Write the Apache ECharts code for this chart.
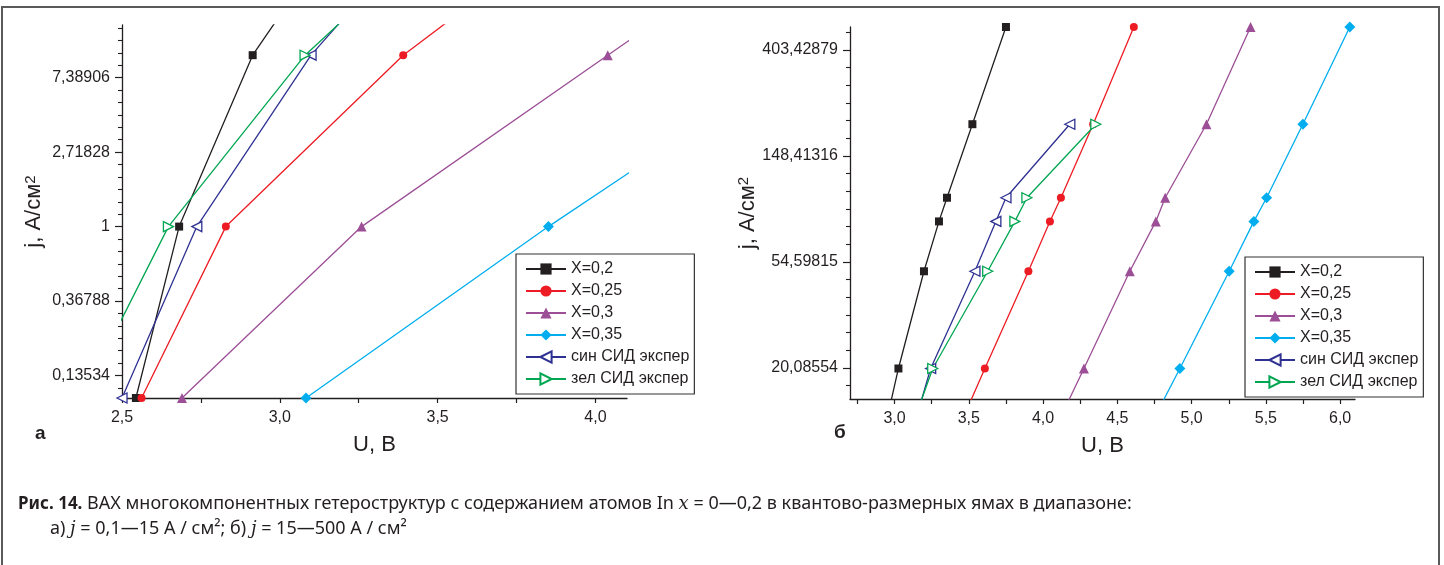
<!DOCTYPE html>
<html>
<head>
<meta charset="utf-8">
<script src="https://cdn.jsdelivr.net/npm/echarts@6/dist/echarts.min.js"></script>
<style>
  html, body { margin: 0; padding: 0; background: #fff; }
  #chart { width: 1444px; height: 565px; }
</style>
</head>
<body>
<div id="chart"></div>
<script>
// Current density levels, A/cm^2 (shared by all curves)
const currentDensity = [0.1, 1, 10, 20, 50, 80, 100, 200, 500];

// Voltage, V, at each current density level
const voltX020 = [2.544, 2.681, 2.914, 3.026, 3.198, 3.299, 3.353, 3.524, 3.750];
const voltX025 = [2.562, 2.829, 3.391, 3.608, 3.901, 4.046, 4.120, 4.337, 4.611];
const voltX030 = [2.690, 3.259, 4.039, 4.275, 4.584, 4.759, 4.822, 5.100, 5.397];
const voltX035 = [3.083, 3.851, 4.665, 4.921, 5.253, 5.419, 5.505, 5.749, 6.065];
const voltBlueLed = [2.500, 2.737, 3.099, 3.243, 3.541, 3.682, 3.750, 4.180, null];
const voltGreenLed = [2.373, 2.647, 3.080, 3.257, 3.627, 3.810, 3.891, 4.355, null];

const seriesNames = ['X=0,2', 'X=0,25', 'X=0,3', 'X=0,35', 'син СИД экспер', 'зел СИД экспер'];

// Axis ticks: voltage labels and natural-log powers for current density
const xLabelsA = [2.5, 3.0, 3.5, 4.0];
const xTicksA = [2.5, 2.75, 3.0, 3.25, 3.5, 3.75, 4.0];
const xLabelsB = [3.0, 3.5, 4.0, 4.5, 5.0, 5.5, 6.0];
const xTicksB = [2.75, 3.0, 3.25, 3.5, 3.75, 4.0, 4.25, 4.5, 4.75, 5.0, 5.25, 5.5, 5.75, 6.0];
const lnPowersA = [-2, -1, 0, 1, 2];
const lnPowersB = [3, 4, 5, 6];
const minorPerPower = 6;

const volts = [voltX020, voltX025, voltX030, voltX035, voltBlueLed, voltGreenLed];
const colors = ['#231f20', '#ed1c24', '#9c4f96', '#00aeef', '#2e3192', '#00a651'];
const symbols = ['rect', 'circle', 'triangle', 'diamond', 'triangle', 'triangle'];
const symbolSizes = [8, 8, 10, 11, 10, 10];
const rotations = [0, 0, 0, 0, 90, -90];
const hollow = [false, false, false, false, true, true];

const FONT = 'Liberation Sans, Arial, sans-serif';
const TEXT = '#231f20';

function fmtNum(v) {
  return String(Math.round(v * 1e5) / 1e5).replace('.', ',');
}
function fmtVolt(v) {
  return v.toFixed(1).replace('.', ',');
}
function majorTicks(powers) {
  return powers.map(p => Math.exp(p));
}
function minorTicks(powers, lo, hi) {
  const out = [];
  const from = powers[0] - 1, to = powers[powers.length - 1] + 1;
  for (let p = from; p <= to; p++) {
    for (let k = 1; k < minorPerPower; k++) {
      const v = Math.exp(p + k / minorPerPower);
      if (v >= lo && v <= hi) out.push(v);
    }
  }
  return out;
}

const grids = [
  { left: 122, top: 25, width: 505, height: 373 },
  { left: 850, top: 27, width: 505, height: 372 }
];

const yRange = [[0.1, 15], [15, 500]];
const xRange = [[2.5, 4.1], [2.7, 6.1]];
const xLabels = [xLabelsA, xLabelsB];
const xTicks = [xTicksA, xTicksB];
const lnPowers = [lnPowersA, lnPowersB];

const yName = {
  name: 'j, A/см{s|2}',
  nameLocation: 'middle',
  nameRotate: 90,
  nameTextStyle: {
    fontFamily: FONT, fontSize: 22, color: TEXT,
    rich: { s: { fontFamily: FONT, fontSize: 15, color: TEXT, verticalAlign: 'top' } }
  }
};

const xAxes = [], yAxes = [];
for (let g = 0; g < 2; g++) {
  xAxes.push({
    type: 'value', gridIndex: g, min: xRange[g][0], max: xRange[g][1],
    name: 'U, B', nameLocation: 'middle', nameGap: 36,
    nameTextStyle: { fontFamily: FONT, fontSize: 22, color: TEXT },
    axisLine: { lineStyle: { color: '#231f20', width: 1.3 } },
    axisTick: { customValues: xTicks[g], length: 5, lineStyle: { color: '#231f20', width: 1.2 } },
    axisLabel: { customValues: xLabels[g], formatter: fmtVolt, fontFamily: FONT, fontSize: 16, color: TEXT, margin: 12 },
    splitLine: { show: false }
  });
  // main y axis: lines, labels, major ticks
  yAxes.push(Object.assign({
    type: 'log', logBase: Math.E, gridIndex: g, position: 'left', min: yRange[g][0], max: yRange[g][1],
    nameGap: 77,
    axisLine: { show: true, lineStyle: { color: '#231f20', width: 1.3 } },
    axisTick: { show: true, customValues: majorTicks(lnPowers[g]), length: 7, lineStyle: { color: '#231f20', width: 1.2 } },
    axisLabel: { customValues: majorTicks(lnPowers[g]), formatter: fmtNum, fontFamily: FONT, fontSize: 16, color: TEXT, margin: 12 },
    splitLine: { show: false }
  }, yName));
}
for (let g = 0; g < 2; g++) {
  // overlay y axis carrying only the short minor ticks
  yAxes.push({
    type: 'log', logBase: Math.E, gridIndex: g, position: 'left', offset: 0,
    min: yRange[g][0], max: yRange[g][1],
    axisLine: { show: false },
    axisTick: { show: true, customValues: minorTicks(lnPowers[g], yRange[g][0], yRange[g][1]), length: 4, lineStyle: { color: '#231f20', width: 1.1 } },
    axisLabel: { show: false },
    splitLine: { show: false }
  });
}

const series = [];
for (let g = 0; g < 2; g++) {
  volts.forEach((v, i) => {
    const data = [];
    v.forEach((u, k) => { if (u != null) data.push([u, currentDensity[k]]); });
    series.push({
      name: seriesNames[i], type: 'line', xAxisIndex: g, yAxisIndex: g,
      data: data, symbol: symbols[i], symbolSize: symbolSizes[i], symbolRotate: rotations[i],
      showAllSymbol: true,
      lineStyle: { color: colors[i], width: 1.3 },
      itemStyle: hollow[i] ? { color: '#ffffff', borderColor: colors[i], borderWidth: 1.3 } : { color: colors[i] },
      emphasis: { disabled: true },
      clip: true, animation: false
    });
  });
}

function legendAt(left, top) {
  return {
    orient: 'vertical', left: left, top: top,
    itemWidth: 40, itemHeight: 14, itemGap: 6,
    padding: [7, 5, 7, 9],
    borderColor: '#333', borderWidth: 1.2, backgroundColor: '#fff',
    textStyle: { fontFamily: FONT, fontSize: 16, color: TEXT },
    data: seriesNames
  };
}

const CAP = 'Noto Sans';
const chart = echarts.init(document.getElementById('chart'), null, { renderer: 'canvas' });
chart.setOption({
  animation: false,
  grid: grids,
  xAxis: xAxes,
  yAxis: yAxes,
  legend: [legendAt(516, 254), legendAt(1245, 257)],
  series: series,
  graphic: [
    { type: 'rect', shape: { x: 2, y: 7, width: 1437, height: 600 }, style: { fill: 'none', stroke: '#5a5a5a', lineWidth: 2 }, silent: true },
    { type: 'text', left: 35, top: 424, style: { text: 'а', fontFamily: FONT, fontSize: 19, fontWeight: 'bold', fill: TEXT } },
    { type: 'text', left: 834, top: 423, style: { text: 'б', fontFamily: FONT, fontSize: 19, fontWeight: 'bold', fill: TEXT } },
    { type: 'text', left: 18, top: 495, style: {
        text: '{b|Рис. 14.} ВАХ многокомпонентных гетероструктур с содержанием атомов In {i|x} = 0—0,2 в квантово-размерных ямах в диапазоне:',
        fontFamily: CAP, fontSize: 18, fill: TEXT,
        rich: {
          b: { fontFamily: CAP, fontSize: 17, fontWeight: 'bold', fill: TEXT },
          i: { fontFamily: 'DejaVu Serif', fontSize: 18, fontStyle: 'italic', fill: TEXT }
        }
      } },
    { type: 'text', left: 50, top: 520, style: {
        text: 'а) {i|j} = 0,1—15 А / см²; б) {i|j} = 15—500 А / см²',
        fontFamily: CAP, fontSize: 18, fill: TEXT,
        rich: { i: { fontFamily: 'DejaVu Serif', fontSize: 18, fontStyle: 'italic', fill: TEXT } }
      } }
  ]
});
</script>
</body>
</html>
